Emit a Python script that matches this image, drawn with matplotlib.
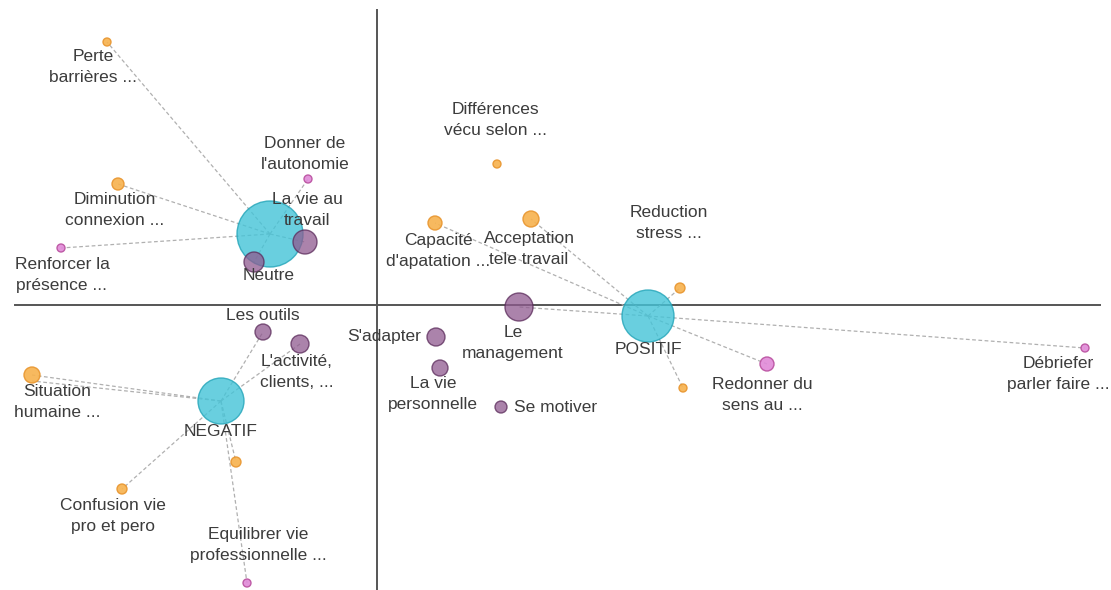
import matplotlib
matplotlib.use("Agg")
import matplotlib.pyplot as plt

plt.rcParams['font.family'] = ['Liberation Sans', 'DejaVu Sans']

# Coordinates on the two factorial axes (origin at axes crossing), bubble weights
centers = ["Neutre", "NEGATIF", "POSITIF"]
center_x = [-107, -156, 271]
center_y = [71, -96, -11]
center_w = [33, 23, 26]

purple_labels = ["La vie au\ntravail", "", "Les outils", "L'activité,\nclients, ...", "Le\nmanagement",
                 "S'adapter", "La vie\npersonnelle", "Se motiver"]
purple_x = [-72, -123, -114, -77, 142, 59, 63, 124]
purple_y = [63, 43, -27, -39, -2, -32, -63, -102]
purple_w = [12, 10, 8, 9, 14, 9, 8, 6]
purple_link = [0, 0, 1, 1, 2, None, None, None]

orange_labels = ["Perte\nbarrières ...", "Diminution\nconnexion ...", "Différences\nvécu selon ...",
                 "Capacité\nd'apatation ...", "Acceptation\ntele travail", "Reduction\nstress ...", "",
                 "Situation\nhumaine ...", "Confusion vie\npro et pero", ""]
orange_x = [-270, -259, 120, 58, 154, 303, 306, -345, -255, -141]
orange_y = [263, 121, 141, 82, 86, 17, -83, -70, -184, -157]
orange_w = [4, 6, 4, 7, 8, 5, 4, 8, 5, 5]
orange_link = [0, 0, None, 2, 2, 2, 2, 1, 1, 1]

pink_labels = ["Donner de\nl'autonomie", "Renforcer la\nprésence ...", "Redonner du\nsens au ...",
               "Débriefer\nparler faire ...", "Equilibrer vie\nprofessionnelle ..."]
pink_x = [-69, -316, 390, 708, -130]
pink_y = [126, 57, -59, -43, -278]
pink_w = [4, 4, 7, 4, 4]
pink_link = [0, 0, 2, 2, 1]

# label placement (layout only)
center_label_off = [(-1, -41), (0, -31), (0, -34)]
purple_label_off = [(2, 32), None, (0, 17), (-3, -28), (-6, -36), (-52, 0), (-7, -26), (55, 0)]
orange_label_off = [(-14, -25), (-3, -26), (-2, 44), (3, -28), (-2, -30), (-11, 65), None,
                    (25, -27), (-9, -27)]
pink_label_off = [(-3, 25), (1, -27), (-5, -31), (-27, -26), (11, 38)]

fig = plt.figure(figsize=(11.11, 5.9), dpi=100)
ax = fig.add_axes([0, 0, 1, 1])
ax.set_xlim(-377, 1111 - 377)
ax.set_ylim(305 - 590, 305)
ax.axis('off')

# axes lines
ax.plot([-362, 723], [0, 0], color='#555555', lw=1.4, zorder=1)
ax.plot([0, 0], [295, -285], color='#555555', lw=1.4, zorder=1)

def pt_size(r):
    return (2 * r * 72 / 100) ** 2

def links(xs, ys, link):
    for x, y, l in zip(xs, ys, link):
        if l is None:
            continue
        ax.plot([center_x[l], x], [center_y[l], y], color='#b0b0b0', lw=0.9,
                ls=(0, (3, 2)), zorder=2)

links(purple_x, purple_y, purple_link)
links(orange_x, orange_y, orange_link)
links(pink_x, pink_y, pink_link)
# second (overlapping) link at "Situation humaine"
ax.plot([center_x[1], orange_x[7]], [center_y[1], orange_y[7] - 6], color='#b0b0b0', lw=0.9,
        ls=(0, (3, 2)), zorder=2)

ax.scatter(center_x, center_y, s=[pt_size(r) for r in center_w], color='#44c4d8', alpha=0.8,
           edgecolors='#22a4b8', linewidths=1.0, zorder=3)
ax.scatter(orange_x, orange_y, s=[pt_size(r) for r in orange_w], color='#f7b24e', alpha=0.9,
           edgecolors='#e8952e', linewidths=1.0, zorder=4)
ax.scatter(pink_x, pink_y, s=[pt_size(r) for r in pink_w], color='#e08ad8', alpha=0.9,
           edgecolors='#b9509f', linewidths=1.0, zorder=4)
ax.scatter(purple_x, purple_y, s=[pt_size(r) for r in purple_w], color='#8f5a8f', alpha=0.75,
           edgecolors='#5a2a5a', linewidths=1.0, zorder=5)

tkw = dict(ha='center', va='center', fontsize=12.5, color='#3c3c3c', linespacing=1.42, zorder=6)

def labels(names, xs, ys, offs):
    for n, x, y, o in zip(names, xs, ys, offs):
        if not n or o is None:
            continue
        ax.text(x + o[0], y + o[1], n, **tkw)

labels(centers, center_x, center_y, center_label_off)
labels(purple_labels, purple_x, purple_y, purple_label_off)
labels(orange_labels, orange_x, orange_y, orange_label_off)
labels(pink_labels, pink_x, pink_y, pink_label_off)

fig.savefig("out.png", dpi=100, facecolor='white')
